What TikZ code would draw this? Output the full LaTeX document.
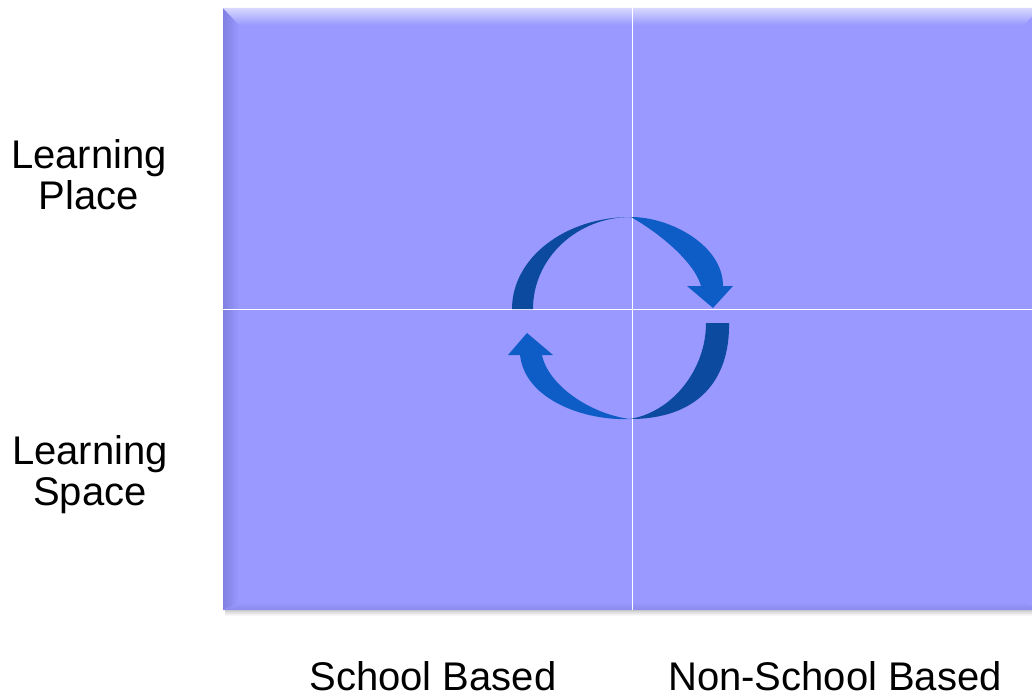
\documentclass[tikz,border=0pt]{standalone}
\usepackage{fontspec}
\setmainfont{Liberation Sans}
\usetikzlibrary{positioning}
\definecolor{lavender}{HTML}{9999FF}
\definecolor{lavlight}{HTML}{D8D8FF}
\definecolor{lavdark}{HTML}{8080E2}
\definecolor{lavshade}{HTML}{8A8AEC}
\definecolor{arrowdark}{HTML}{0B4A9E}
\definecolor{arrowlight}{HTML}{0E5CC6}
\tikzset{
  axislabel/.style={font=\fontsize{40}{41}\selectfont, align=center, text=black, inner sep=0pt},
  divider/.style={draw=white, line width=1pt},
  darkpart/.style={fill=arrowdark},
  lightpart/.style={fill=arrowlight},
}

\begin{document}
\begin{tikzpicture}[x=1pt, y=-1pt]
  \useasboundingbox (0,0) rectangle (1032,698);
  \begin{scope}
    \clip (0,0) rectangle (1032,698);
    % panel with bevelled edges
    \shade[top color=gray!45, bottom color=white] (225,609) rectangle (1040,616);
    \fill[lavender] (223,8) rectangle (1040,610);
    \shade[left color=lavdark, right color=lavender]
      (223,8) -- (239,25) -- (239,602) -- (223,610) -- cycle;
    \shade[top color=lavlight, bottom color=lavender]
      (223,8) -- (1040,8) -- (1024,25) -- (239,25) -- cycle;
    \shade[top color=lavender, bottom color=lavshade]
      (223,610) -- (239,602) -- (1024,602) -- (1040,610) -- cycle;
  \end{scope}

  % quadrant lines
  \draw[divider] (632,8) -- (632,610);
  \draw[divider] (223,309) -- (1032,309);

  % upper arrow
  \fill[darkpart] (512,309) .. controls (512,258) and (565,217) .. (631,217)
    .. controls (577,217) and (533,258) .. (533,309) -- cycle;
  \fill[lightpart] (631,217) .. controls (670,217) and (723,245) .. (723,286)
    -- (733,286) -- (713,308) -- (687,286) -- (701,286)
    .. controls (695,264) and (664,236) .. (631,217) -- cycle;

  % lower arrow
  \fill[darkpart] (729,323) .. controls (730,380) and (698,419) .. (630,419)
    .. controls (672,412) and (706,370) .. (706,323) -- cycle;
  \fill[lightpart] (630,419) .. controls (585,421) and (525,400) .. (520,355)
    -- (508,355) -- (527,333) -- (553,355) -- (542,355)
    .. controls (548,385) and (590,414) .. (630,419) -- cycle;

  % labels
  \node[axislabel] (place) at (89,175) {Learning\\Place};
  \node[axislabel] (space) at (90,475) {Learning\\Space};
  \node[axislabel, anchor=base] (school) at (433,690) {School Based};
  \node[axislabel, anchor=base] (nonschool) at (835,690) {Non-School Based};
\end{tikzpicture}
\end{document}
